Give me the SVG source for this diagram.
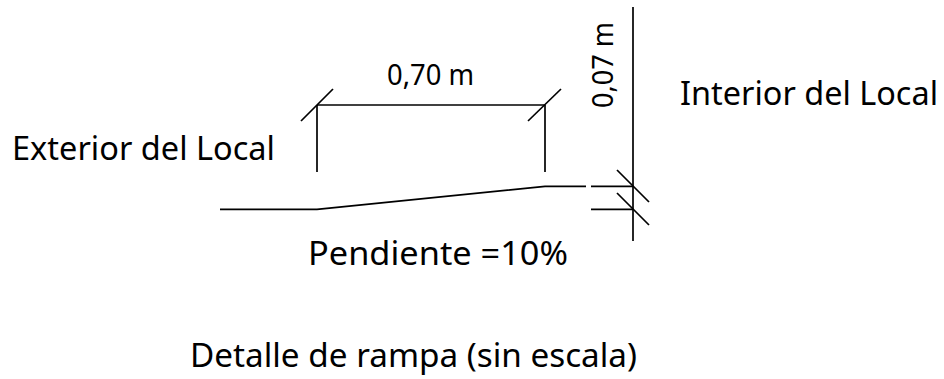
<svg xmlns="http://www.w3.org/2000/svg" width="944" height="379" viewBox="0 0 944 379">
<style>
text{font-family:"Noto Sans","Open Sans","DejaVu Sans",sans-serif;fill:#000}
.l{font-size:33.5px}
.s{font-size:29px}
line,polyline{stroke:#000;stroke-width:1.7;fill:none}
</style>
<rect width="944" height="379" fill="#fff"/>
<g id="drawing">
<polyline points="220,209.3 317,209.3 545,186.3 586,186.3"/>
<line x1="591" y1="186.3" x2="633" y2="186.3"/>
<line x1="591" y1="209.3" x2="633" y2="209.3"/>
<line x1="633" y1="7" x2="633" y2="241"/>
<line x1="317" y1="105" x2="545" y2="105"/>
<line x1="317" y1="105" x2="317" y2="172"/>
<line x1="545" y1="105" x2="545" y2="172"/>
<line x1="301" y1="121" x2="333" y2="89"/>
<line x1="528" y1="121" x2="561" y2="89"/>
<line x1="617" y1="170" x2="649" y2="202"/>
<line x1="617" y1="193" x2="649" y2="225"/>
</g>
<text class="s" x="387" y="85" textLength="87" lengthAdjust="spacingAndGlyphs">0,70 m</text>
<text class="s" transform="translate(612.5,108) rotate(-90)" textLength="86" lengthAdjust="spacingAndGlyphs">0,07 m</text>
<text class="l" x="680" y="104.5" textLength="258" lengthAdjust="spacingAndGlyphs">Interior del Local</text>
<text class="l" x="12" y="160" textLength="263" lengthAdjust="spacingAndGlyphs">Exterior del Local</text>
<text class="l" x="308" y="264.5" textLength="260" lengthAdjust="spacingAndGlyphs">Pendiente =10%</text>
<text class="l" x="190" y="367" textLength="447" lengthAdjust="spacingAndGlyphs">Detalle de rampa (sin escala)</text>
</svg>
